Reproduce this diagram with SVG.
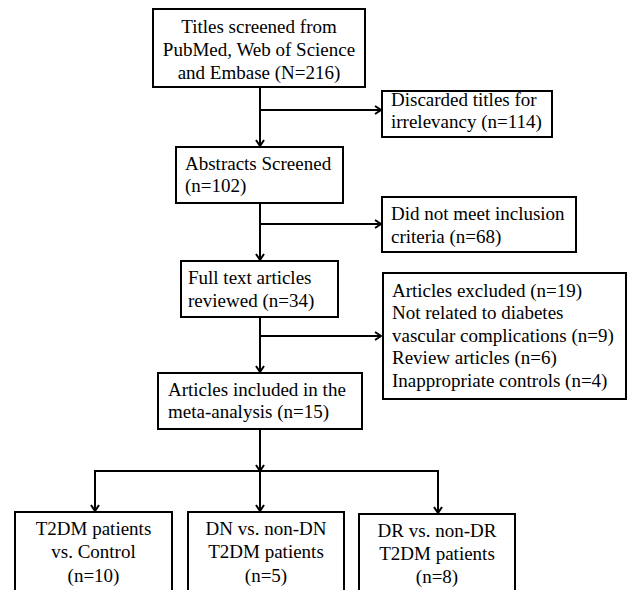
<svg xmlns="http://www.w3.org/2000/svg" width="627" height="590" viewBox="0 0 627 590">
<style>
.box{fill:#fff;stroke:#000;stroke-width:2}
.t{font-family:"Liberation Serif","Times New Roman",serif;font-size:19px;fill:#000}
.c{text-anchor:middle}
.ln{fill:none;stroke:#000;stroke-width:2}
</style>
<defs>
<marker id="ah" markerWidth="10" markerHeight="12" refX="7.5" refY="6" orient="auto" markerUnits="userSpaceOnUse">
<path d="M1.5,2 L7.5,6 L1.5,10" fill="none" stroke="#000" stroke-width="2"/>
</marker>
</defs>
<rect width="627" height="590" fill="#fff"/>
<g id="connectors">
<line class="ln" x1="260" y1="87" x2="260" y2="146" marker-end="url(#ah)"/>
<line class="ln" x1="260" y1="110" x2="381" y2="110" marker-end="url(#ah)"/>
<line class="ln" x1="260" y1="203" x2="260" y2="260" marker-end="url(#ah)"/>
<line class="ln" x1="260" y1="224" x2="381" y2="224" marker-end="url(#ah)"/>
<line class="ln" x1="260" y1="317" x2="260" y2="372" marker-end="url(#ah)"/>
<line class="ln" x1="260" y1="336" x2="381" y2="336" marker-end="url(#ah)"/>
<line class="ln" x1="260" y1="429" x2="260" y2="471" marker-end="url(#ah)"/>
<polyline class="ln" points="95,511 95,471 438,471 438,513"/>
<line class="ln" x1="95" y1="471" x2="95" y2="511" marker-end="url(#ah)"/>
<line class="ln" x1="260" y1="471" x2="260" y2="511" marker-end="url(#ah)"/>
<line class="ln" x1="438" y1="471" x2="438" y2="513" marker-end="url(#ah)"/>
</g>
<g id="n-titles">
<rect class="box" x="153" y="9" width="212" height="78"/>
<text class="t c" x="259" y="33">Titles screened from</text>
<text class="t c" x="259" y="56">PubMed, Web of Science</text>
<text class="t c" x="259" y="79">and Embase (N=216)</text>
</g>
<g id="n-discarded">
<rect class="box" x="382" y="91" width="170" height="46"/>
<text class="t" x="391" y="106">Discarded titles for</text>
<text class="t" x="391" y="128">irrelevancy (n=114)</text>
</g>
<g id="n-abstracts">
<rect class="box" x="176" y="147" width="167" height="56"/>
<text class="t" x="185" y="170">Abstracts Screened</text>
<text class="t" x="185" y="192">(n=102)</text>
</g>
<g id="n-notmeet">
<rect class="box" x="382" y="197" width="194" height="55"/>
<text class="t" x="391" y="220">Did not meet inclusion</text>
<text class="t" x="391" y="243">criteria (n=68)</text>
</g>
<g id="n-fulltext">
<rect class="box" x="181" y="261" width="157" height="56"/>
<text class="t" x="188" y="284">Full text articles</text>
<text class="t" x="188" y="307">reviewed (n=34)</text>
</g>
<g id="n-excluded">
<rect class="box" x="383" y="273" width="243" height="126"/>
<text class="t" x="392" y="297">Articles excluded (n=19)</text>
<text class="t" x="392" y="319">Not related to diabetes</text>
<text class="t" x="392" y="342">vascular complications (n=9)</text>
<text class="t" x="392" y="364">Review articles (n=6)</text>
<text class="t" x="392" y="387">Inappropriate controls (n=4)</text>
</g>
<g id="n-included">
<rect class="box" x="158" y="373" width="204" height="56"/>
<text class="t" x="168" y="396">Articles included in the</text>
<text class="t" x="168" y="418">meta-analysis (n=15)</text>
</g>
<g id="n-t2dm">
<rect class="box" x="15" y="512" width="157" height="80"/>
<text class="t c" x="93.5" y="535">T2DM patients</text>
<text class="t c" x="93.5" y="558">vs. Control</text>
<text class="t c" x="93.5" y="582">(n=10)</text>
</g>
<g id="n-dn">
<rect class="box" x="188" y="512" width="156" height="80"/>
<text class="t c" x="266" y="535">DN vs. non-DN</text>
<text class="t c" x="266" y="558">T2DM patients</text>
<text class="t c" x="266" y="582">(n=5)</text>
</g>
<g id="n-dr">
<rect class="box" x="359" y="514" width="156" height="78"/>
<text class="t c" x="437" y="537">DR vs. non-DR</text>
<text class="t c" x="437" y="560">T2DM patients</text>
<text class="t c" x="437" y="583">(n=8)</text>
</g>
</svg>
